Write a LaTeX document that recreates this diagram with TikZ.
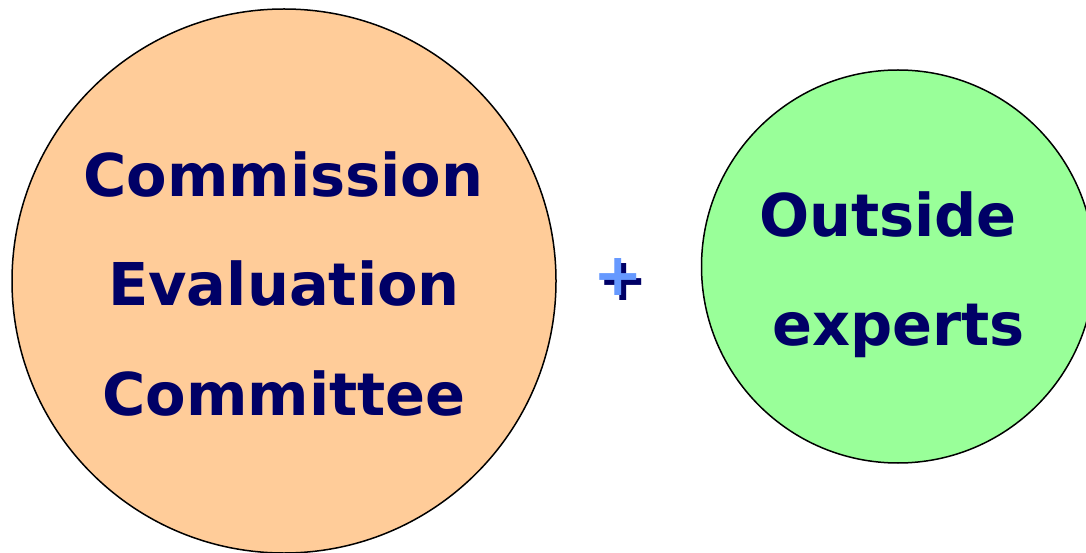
\documentclass[tikz,border=0pt]{standalone}
\usepackage{fontspec}
\setmainfont{DejaVu Sans}
\definecolor{ffcc99}{rgb}{1,0.8,0.6}
\definecolor{99ff99}{rgb}{0.6,1,0.6}
\definecolor{qqqq66}{rgb}{0,0,0.4}
\definecolor{6699ff}{rgb}{0.4,0.6,1}
\tikzset{
  bubble/.style={circle,draw=black,line width=1.5pt,inner sep=0pt},
  word/.style={anchor=base,inner sep=0pt,color=qqqq66,font=\fontsize{59}{70}\selectfont\bfseries}
}
\begin{document}
\begin{tikzpicture}[x=1pt,y=1pt]
\useasboundingbox (0,0) rectangle (1086,552);
\clip (0,0) rectangle (1086,552);
\node[bubble,fill=ffcc99,minimum size=544pt] (panel) at (284,271) {};
\node[bubble,fill=99ff99,minimum size=393pt] (experts) at (898,285.5) {};
% left circle
\node[word] (commission) at (283.5,355) {Commission};
\node[word] (evaluation) at (284,246) {Evaluation};
\node[word] (committee) at (284,137) {Committee};
% right circle
\node[word] (outside) at (888,315) {Outside};
\node[word] (expertsword) at (898.5,207) {experts};
% plus with shadow
\node[word,anchor=center,color=qqqq66] (plusshadow) at (623.5,269.5) {+};
\node[word,anchor=center,color=6699ff] (plus) at (618.5,274.5) {+};
\end{tikzpicture}
\end{document}
